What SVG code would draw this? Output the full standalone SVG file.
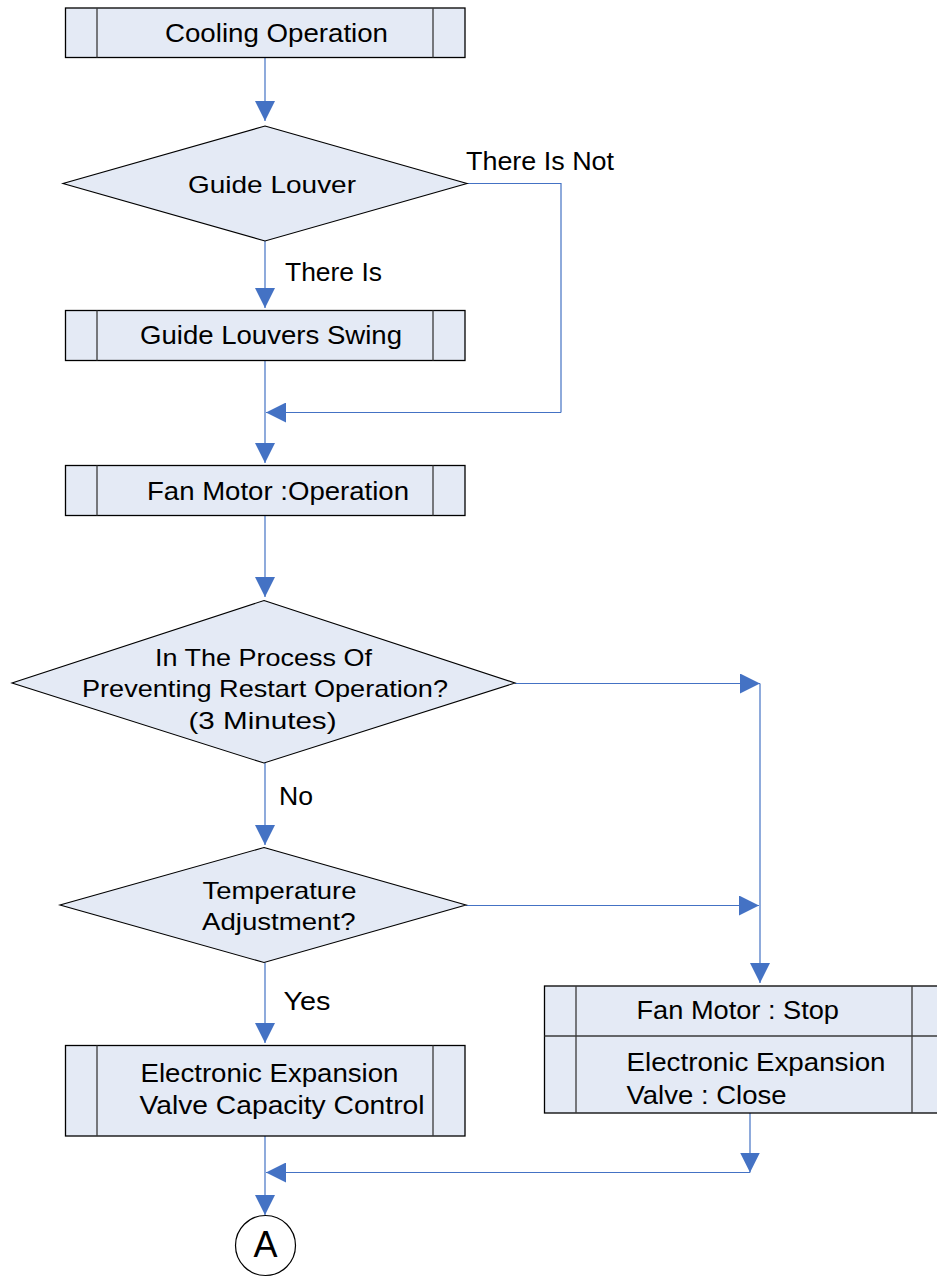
<svg xmlns="http://www.w3.org/2000/svg" width="937" height="1277" viewBox="0 0 937 1277">
<defs>
<style>
.box{fill:#E4EAF5;stroke:#000;stroke-width:1.3}
.div{stroke:#3a3a3a;stroke-width:1.3;fill:none}
.dia{fill:#E4EAF5;stroke:#000;stroke-width:1.1}
.con{fill:none;stroke:#4472C4;stroke-width:1.2;marker-end:url(#ah)}
.line{fill:none;stroke:#4472C4;stroke-width:1.2}
text{font-family:"Liberation Sans",Arial,sans-serif;fill:#000}
.bt{font-size:26px}
.dt{font-size:24px}
.lt{font-size:25px}
</style>
<marker id="ah" markerUnits="userSpaceOnUse" markerWidth="20" markerHeight="20" refX="20" refY="10" orient="auto" viewBox="0 0 20 20">
<path d="M0,0 L20,10 L0,20 Z" fill="#4472C4"/>
</marker>
</defs>
<rect width="937" height="1277" fill="#fff"/>

<g id="connectors">
<path class="con" d="M265,57.5 V121"/>
<path class="con" d="M265,241 V308"/>
<path class="line" d="M467,183.5 H561 V412.5"/>
<path class="con" d="M561,412.5 H266"/>
<path class="con" d="M265,361 V463"/>
<path class="con" d="M265,516 V597"/>
<path class="con" d="M515,683.5 H760"/>
<path class="con" d="M760,683.5 V983"/>
<path class="con" d="M265,763 V845"/>
<path class="con" d="M466,905.5 H759"/>
<path class="con" d="M265,962.5 V1043"/>
<path class="con" d="M750,1113 V1172.5"/>
<path class="con" d="M750,1172.5 H266"/>
<path class="con" d="M265,1136 V1215"/>
</g>

<g id="cooling-operation">
<rect class="box" x="65.5" y="8" width="399.5" height="49.5"/>
<path class="div" d="M97,8 V57.5 M433,8 V57.5"/>
<text class="bt" x="165" y="42" textLength="223" lengthAdjust="spacingAndGlyphs">Cooling Operation</text>
</g>

<g id="guide-louver">
<polygon class="dia" points="265,126 467,183.5 265,241 63,183.5"/>
<text class="dt" x="188" y="193" textLength="168" lengthAdjust="spacingAndGlyphs">Guide Louver</text>
</g>

<g id="label-there-is-not">
<text class="lt" x="466" y="170" textLength="148" lengthAdjust="spacingAndGlyphs">There Is Not</text>
</g>
<g id="label-there-is">
<text class="lt" x="285" y="281" textLength="97" lengthAdjust="spacingAndGlyphs">There Is</text>
</g>

<g id="guide-louvers-swing">
<rect class="box" x="65.5" y="310.5" width="399.5" height="50"/>
<path class="div" d="M97,310.5 V360.5 M433,310.5 V360.5"/>
<text class="bt" x="140" y="344" textLength="262" lengthAdjust="spacingAndGlyphs">Guide Louvers Swing</text>
</g>

<g id="fan-motor-operation">
<rect class="box" x="65.5" y="465.5" width="399.5" height="50"/>
<path class="div" d="M97,465.5 V515.5 M433,465.5 V515.5"/>
<text class="bt" x="147" y="500" textLength="262" lengthAdjust="spacingAndGlyphs">Fan Motor :Operation</text>
</g>

<g id="preventing-restart">
<polygon class="dia" points="264,600.5 515,683 264,763 12,683"/>
<text class="dt" x="155" y="666" textLength="217" lengthAdjust="spacingAndGlyphs">In The Process Of</text>
<text class="dt" x="82" y="697" textLength="366" lengthAdjust="spacingAndGlyphs">Preventing Restart Operation?</text>
<text class="dt" x="188.5" y="728.5" textLength="148" lengthAdjust="spacingAndGlyphs">(3 Minutes)</text>
</g>

<g id="label-no">
<text class="lt" x="279" y="805" textLength="34" lengthAdjust="spacingAndGlyphs">No</text>
</g>

<g id="temperature-adjustment">
<polygon class="dia" points="264,847.5 466,905 264,962.5 60,905"/>
<text class="dt" x="202.5" y="898.5" textLength="154" lengthAdjust="spacingAndGlyphs">Temperature</text>
<text class="dt" x="202" y="930" textLength="153.5" lengthAdjust="spacingAndGlyphs">Adjustment?</text>
</g>

<g id="label-yes">
<text class="lt" x="283.5" y="1010" textLength="47" lengthAdjust="spacingAndGlyphs">Yes</text>
</g>

<g id="eev-capacity-control">
<rect class="box" x="65.5" y="1045.5" width="399.5" height="90.5"/>
<path class="div" d="M97,1045.5 V1136 M433,1045.5 V1136"/>
<text class="bt" x="140.5" y="1081.5" textLength="258" lengthAdjust="spacingAndGlyphs">Electronic Expansion</text>
<text class="bt" x="139.5" y="1113.5" textLength="285" lengthAdjust="spacingAndGlyphs">Valve Capacity Control</text>
</g>

<g id="fan-stop-valve-close">
<rect class="box" x="544.5" y="986" width="420" height="127"/>
<path class="div" d="M544.5,1036 H964.5"/>
<path class="div" d="M576,986 V1113 M912,986 V1113"/>
<text class="bt" x="636.5" y="1019" textLength="202.5" lengthAdjust="spacingAndGlyphs">Fan Motor : Stop</text>
<text class="bt" x="626.5" y="1071" textLength="259" lengthAdjust="spacingAndGlyphs">Electronic Expansion</text>
<text class="bt" x="626.5" y="1104" textLength="160" lengthAdjust="spacingAndGlyphs">Valve : Close</text>
</g>

<g id="connector-a">
<circle cx="265.5" cy="1245.5" r="30" fill="#fff" stroke="#000" stroke-width="1.2"/>
<text x="265.5" y="1257" font-size="36" text-anchor="middle">A</text>
</g>
</svg>
